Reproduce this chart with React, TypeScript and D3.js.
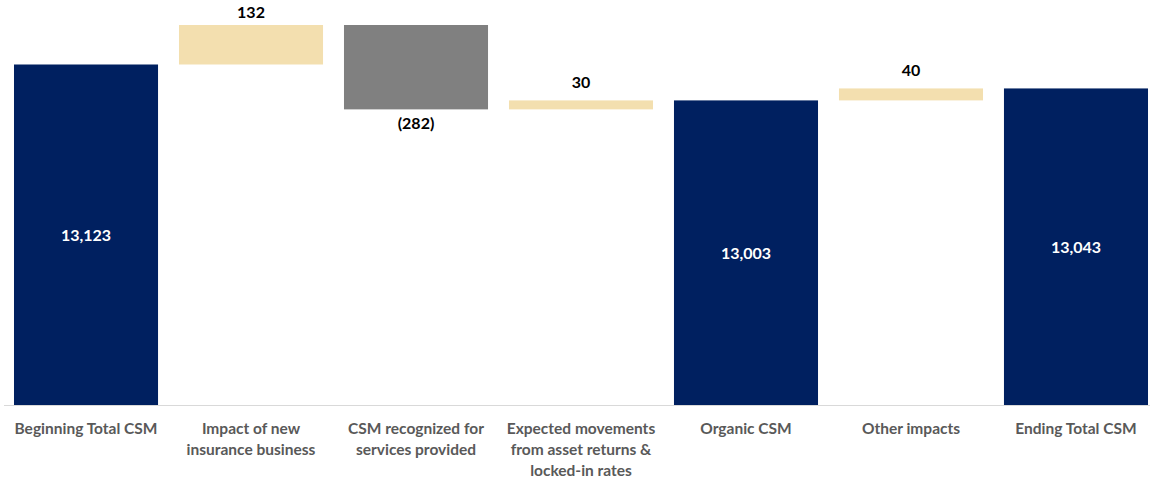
import React from "react";
import * as d3 from "d3";

const categories: string[][] = [
  ["Beginning Total CSM"],
  ["Impact of new", "insurance business"],
  ["CSM recognized for", "services provided"],
  ["Expected movements", "from asset returns &", "locked-in rates"],
  ["Organic CSM"],
  ["Other impacts"],
  ["Ending Total CSM"],
];
const values: number[] = [13123, 132, -282, 30, 13003, 40, 13043];
const kinds: string[] = ["total", "delta", "delta", "delta", "total", "delta", "total"];
const labels: string[] = ["13,123", "132", "(282)", "30", "13,003", "40", "13,043"];

const W = 1150;
const H = 482;
const NAVY = "#002060";
const TAN = "#F3DFAF";
const GRAY = "#808080";
const LABEL = "#595959";
const FONT = "Lato, 'Open Sans', sans-serif";

export default function App() {
  const x = d3
    .scaleBand<number>()
    .domain(values.map((_, i) => i))
    .range([3.5, 1158.5])
    .paddingInner(0.127)
    .paddingOuter(0.0636);
  const y = d3.scaleLinear().domain([11985, 13255]).range([405, 25]);

  let running = 0;
  const bars = values.map((v, i) => {
    let lo: number, hi: number;
    if (kinds[i] === "total") {
      lo = y.domain()[0];
      hi = v;
      running = v;
    } else {
      const start = running;
      const end = running + v;
      lo = Math.min(start, end);
      hi = Math.max(start, end);
      running = end;
    }
    const color = kinds[i] === "total" ? NAVY : v >= 0 ? TAN : GRAY;
    return { i, v, lo, hi, color };
  });

  return (
    <svg
      width={W}
      height={H}
      style={{ position: "absolute", left: 0, top: 0, display: "block", background: "#fff" }}
    >
      <line x1={4} x2={W} y1={405.5} y2={405.5} stroke="#D9D9D9" strokeWidth={1.2} />
      {bars.map((b) => {
        const bx = x(b.i)!;
        const bw = x.bandwidth();
        const top = y(b.hi);
        const bot = y(b.lo);
        const cx = bx + bw / 2;
        let label;
        if (kinds[b.i] === "total") {
          label = (
            <text x={cx} y={(top + bot) / 2 + 6.5} textAnchor="middle" fill="#fff" fontSize={16} fontWeight={700} fontFamily={FONT}>
              {labels[b.i]}
            </text>
          );
        } else if (b.v >= 0) {
          label = (
            <text x={cx} y={Math.max(top - 12, 17.5)} textAnchor="middle" fill="#000" fontSize={16} fontWeight={700} fontFamily={FONT}>
              {labels[b.i]}
            </text>
          );
        } else {
          label = (
            <text x={cx} y={bot + 20} textAnchor="middle" fill="#000" fontSize={16} fontWeight={700} fontFamily={FONT}>
              {labels[b.i]}
            </text>
          );
        }
        return (
          <g key={b.i}>
            <rect x={bx} y={top} width={bw} height={bot - top} fill={b.color} />
            {label}
            {categories[b.i].map((line, j) => (
              <text key={j} x={cx} y={433.5 + j * 21} textAnchor="middle" fill={LABEL} fontSize={15.5} fontWeight={700} fontFamily={FONT}>
                {line}
              </text>
            ))}
          </g>
        );
      })}
    </svg>
  );
}
